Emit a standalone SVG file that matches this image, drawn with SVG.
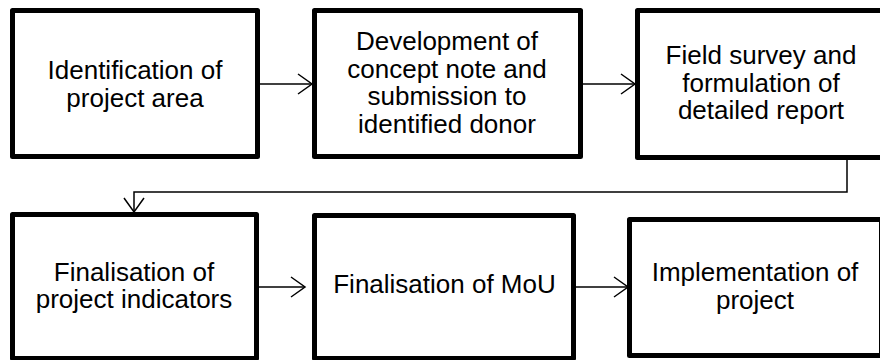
<svg xmlns="http://www.w3.org/2000/svg" width="880" height="360" viewBox="0 0 880 360">
<style>
.box{fill:#fff;stroke:#000;stroke-width:5;stroke-linejoin:round}
.lbl{font-family:"Liberation Sans",Arial,sans-serif;font-size:26px;fill:#000;text-anchor:middle}
.con{fill:none;stroke:#000;stroke-width:1.5}
</style>
<defs>
<marker id="arr" markerUnits="userSpaceOnUse" markerWidth="20" markerHeight="24" viewBox="-16 -12 20 24" refX="0" refY="0" orient="auto" overflow="visible">
<path d="M-14,-10 L0,0 L-14,10" fill="none" stroke="#000" stroke-width="1.5"/>
</marker>
</defs>
<rect width="880" height="360" fill="#fff"/>
<g id="connectors">
<line class="con" x1="260" y1="84" x2="312" y2="84" marker-end="url(#arr)"/>
<line class="con" x1="583" y1="84" x2="635" y2="84" marker-end="url(#arr)"/>
<polyline class="con" points="847,158 847,192 134,192 134,212" marker-end="url(#arr)"/>
<line class="con" x1="259" y1="287" x2="305" y2="287" marker-end="url(#arr)"/>
<line class="con" x1="576" y1="287" x2="628" y2="287" marker-end="url(#arr)"/>
</g>
<g id="n1">
<rect class="box" x="12.5" y="10.5" width="245" height="146"/>
<text class="lbl" x="135" y="79">Identification of</text>
<text class="lbl" x="135" y="107">project area</text>
</g>
<g id="n2">
<rect class="box" x="314.5" y="10.5" width="266" height="146"/>
<text class="lbl" x="447" y="50">Development of</text>
<text class="lbl" x="447" y="77.5">concept note and</text>
<text class="lbl" x="447" y="105">submission to</text>
<text class="lbl" x="447" y="132.5">identified donor</text>
</g>
<g id="n3">
<rect class="box" x="637.5" y="10.5" width="245" height="147"/>
<text class="lbl" x="761" y="64">Field survey and</text>
<text class="lbl" x="761" y="91.5">formulation of</text>
<text class="lbl" x="761" y="119">detailed report</text>
</g>
<g id="n4">
<rect class="box" x="12.5" y="214.5" width="244" height="144"/>
<text class="lbl" x="134" y="280.5">Finalisation of</text>
<text class="lbl" x="134" y="308">project indicators</text>
</g>
<g id="n5">
<rect class="box" x="314.5" y="215.5" width="259" height="143"/>
<text class="lbl" x="444.5" y="293">Finalisation of MoU</text>
</g>
<g id="n6">
<rect class="box" x="629.5" y="219.5" width="252" height="136"/>
<text class="lbl" x="755" y="281">Implementation of</text>
<text class="lbl" x="755" y="308.5">project</text>
</g>
</svg>
